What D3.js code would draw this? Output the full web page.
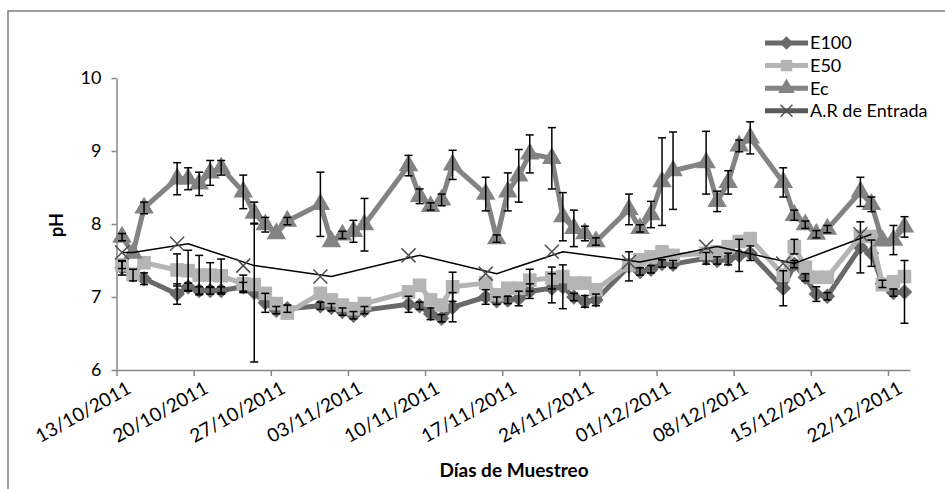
<!DOCTYPE html>
<html>
<head>
<meta charset="utf-8">
<script src="https://cdnjs.cloudflare.com/ajax/libs/d3/7.8.5/d3.min.js"></script>
<style>
  body { margin: 0; background: #fff; }
  svg { display: block; font-family: Lato, "Open Sans", sans-serif; }
</style>
</head>
<body>
<svg id="chart" width="945" height="489"></svg>
<script>
// sampling dates (dd/mm/yyyy)
const dates = [
  "13/10/2011","14/10/2011","15/10/2011","18/10/2011","19/10/2011","20/10/2011","21/10/2011","22/10/2011",
  "24/10/2011","25/10/2011","26/10/2011","27/10/2011","28/10/2011",
  "31/10/2011","01/11/2011","02/11/2011","03/11/2011","04/11/2011",
  "08/11/2011","09/11/2011","10/11/2011","11/11/2011","12/11/2011",
  "15/11/2011","16/11/2011","17/11/2011","18/11/2011","19/11/2011",
  "21/11/2011","22/11/2011","23/11/2011","24/11/2011","25/11/2011",
  "28/11/2011","29/11/2011","30/11/2011","01/12/2011","02/12/2011",
  "05/12/2011","06/12/2011","07/12/2011","08/12/2011","09/12/2011",
  "12/12/2011","13/12/2011","14/12/2011","15/12/2011","16/12/2011",
  "19/12/2011","20/12/2011","21/12/2011","22/12/2011","23/12/2011"
];

const e100 = [7.40,7.30,7.25,7.04,7.14,7.09,7.09,7.09, 7.14,7.06,6.92,6.82,6.84, 6.88,6.86,6.80,6.75,6.82,
  6.90,6.88,6.77,6.71,6.86, 7.00,6.95,6.96,6.98,7.08, 7.12,7.14,7.00,6.94,6.96, 7.42,7.35,7.38,7.46,7.45,
  7.53,7.50,7.52,7.57,7.60, 7.12,7.45,7.27,7.04,7.01, 7.68,7.60,7.18,7.06,7.07];
const e100Err = [0.10,0.08,0.08,0.14,0.05,0.05,0.05,0.05, 0.06,0.95,0.13,0.05,0.05, 0.05,0.05,0.05,0.05,0.05,
  0.11,0.05,0.08,0.05,0.20, 0.10,0.05,0.05,0.10,0.10, 0.20,0.30,0.05,0.08,0.08, 0.20,0.05,0.05,0.05,0.05,
  0.08,0.05,0.08,0.22,0.10, 0.24,0.05,0.05,0.10,0.05, 0.35,0.18,0.05,0.05,0.43];

const e50 = [7.44,7.31,7.47,7.37,7.36,7.30,7.30,7.29, 7.18,7.17,7.05,6.91,6.78, 7.05,6.96,6.89,6.84,6.91,
  7.07,7.16,6.96,6.89,7.14, 7.19,7.03,7.12,7.12,7.23, 7.26,7.28,7.19,7.19,7.10, 7.44,7.51,7.55,7.62,7.57,
  7.60,7.62,7.69,7.76,7.80, 7.30,7.69,7.41,7.27,7.27, 7.83,7.83,7.17,7.21,7.28];
const e50Err = [0.05,0,0,0.22,0.28,0.27,0.17,0.23, 0.12,0,0,0,0, 0,0,0,0,0,
  0,0,0,0,0.20, 0,0,0,0,0.15, 0.15,0,0,0,0, 0,0,0,0,0,
  0,0,0,0,0, 0,0.10,0,0,0, 0,0,0,0,0];

const ec = [7.82,7.60,8.22,8.62,8.62,8.55,8.70,8.77, 8.44,8.15,7.99,7.87,8.04, 8.27,7.76,7.85,7.90,7.99,
  8.80,8.38,8.24,8.33,8.81, 8.41,7.80,8.44,8.66,8.96, 8.90,8.10,7.94,7.87,7.76, 8.20,7.94,8.13,8.58,8.73,
  8.84,8.31,8.57,9.07,9.18, 8.57,8.12,7.99,7.86,7.93, 8.44,8.27,7.77,7.78,7.96];
const ecErr = [0.05,0,0.08,0.22,0.15,0.16,0.17,0.10, 0.23,0.15,0.10,0,0.05, 0.44,0,0.05,0.15,0.36,
  0.14,0.10,0.05,0.08,0.20, 0.23,0.05,0.26,0.36,0.26, 0.42,0.33,0.25,0.10,0.05, 0.21,0.05,0.18,0.60,0.53,
  0.43,0.14,0.16,0.08,0.22, 0.20,0.07,0.05,0.05,0.05, 0.20,0.10,0,0.20,0.14];

// inlet wastewater, weekly
const arDates = ["13/10/2011","18/10/2011","24/10/2011","31/10/2011","08/11/2011","15/11/2011",
  "21/11/2011","28/11/2011","05/12/2011","12/12/2011","19/12/2011"];
const arValues = [7.61,7.73,7.43,7.28,7.57,7.32,7.62,7.48,7.69,7.46,7.86];

const yTicks = [6, 7, 8, 9, 10];

const parse = d3.utcParse("%d/%m/%Y");
const fmt = d3.utcFormat("%d/%m/%Y");
const DAY = 864e5;

const svg = d3.select("#chart");
const font = 'Lato, "Open Sans", sans-serif';

// excel-like diamond (square turned 45deg)
const diamond = {
  draw(ctx, size) {
    const r = Math.sqrt(size / 2);
    ctx.moveTo(0, -r); ctx.lineTo(r, 0); ctx.lineTo(0, r); ctx.lineTo(-r, 0); ctx.closePath();
  }
};

// outer frame
svg.append("rect")
  .attr("x", 8).attr("y", 11).attr("width", 960).attr("height", 500)
  .attr("fill", "none").attr("stroke", "#7f7f7f").attr("stroke-width", 1.5);

const x = d3.scaleUtc()
  .domain([parse("13/10/2011"), parse("24/12/2011")])
  .range([116.5, 910]);
const y = d3.scaleLinear().domain([6, 10]).range([370, 78]);
const px = d => x(new Date(parse(d).getTime() + DAY / 2));

// axes
const xAxis = svg.append("g")
  .attr("transform", "translate(0,370)")
  .call(d3.axisBottom(x)
    .tickValues(d3.utcDay.range(parse("13/10/2011"), parse("24/12/2011"), 7))
    .tickFormat(fmt).tickSizeInner(6).tickSizeOuter(0));
xAxis.select(".domain").attr("stroke", "#868686").attr("stroke-width", 1.5);
xAxis.selectAll(".tick line").attr("stroke", "#868686").attr("stroke-width", 1.5);
xAxis.selectAll(".tick text")
  .attr("font-family", font).attr("font-size", 19).attr("fill", "#000")
  .attr("text-anchor", "end")
  .attr("transform", "translate(7,7) rotate(-29)")
  .attr("dy", "0.6em").attr("y", 6);

const yAxis = svg.append("g")
  .attr("transform", "translate(116.5,0)")
  .call(d3.axisLeft(y).tickValues(yTicks).tickFormat(d3.format("d"))
    .tickSizeInner(5).tickSizeOuter(0).tickPadding(10));
yAxis.select(".domain").attr("stroke", "#868686").attr("stroke-width", 1.5);
yAxis.selectAll(".tick line").attr("stroke", "#868686").attr("stroke-width", 1.5);
yAxis.selectAll(".tick text").attr("font-family", font).attr("font-size", 18).attr("fill", "#000");

svg.append("text")
  .attr("transform", "translate(63,225) rotate(-90)")
  .attr("text-anchor", "middle")
  .attr("font-family", font).attr("font-size", 18).attr("font-weight", "bold")
  .text("pH");
svg.append("text")
  .attr("x", 514).attr("y", 477)
  .attr("text-anchor", "middle")
  .attr("font-family", font).attr("font-size", 19).attr("font-weight", "bold")
  .text("Días de Muestreo");

// series
const series = [
  { name: "E100", values: e100, err: e100Err, color: "#696969", symbol: diamond, size: 120 },
  { name: "E50", values: e50, err: e50Err, color: "#b4b4b4", symbol: d3.symbolSquare, size: 185 },
  { name: "Ec", values: ec, err: ecErr, color: "#838383", symbol: d3.symbolTriangle, size: 165 }
];

const line = d3.line().x(d => d.x).y(d => d.y);

series.forEach(s => {
  const pts = dates.map((d, i) => ({ x: px(d), y: y(s.values[i]), v: s.values[i], e: s.err[i] }));
  const g = svg.append("g").attr("class", "series");
  g.append("path")
    .attr("d", line(pts))
    .attr("fill", "none").attr("stroke", s.color).attr("stroke-width", 5)
    .attr("stroke-linejoin", "round");
  g.selectAll(".mark")
    .data(pts).enter().append("path")
    .attr("class", "mark")
    .attr("transform", d => `translate(${d.x},${d.y})`)
    .attr("d", d3.symbol().type(s.symbol).size(s.size))
    .attr("fill", s.color);
  s.pts = pts;
});

// error bars on top
series.forEach(s => {
  const eb = svg.append("g").attr("stroke", "#000").attr("stroke-width", 1.5);
  s.pts.filter(d => d.e > 0).forEach(d => {
    const y1 = y(d.v + d.e), y2 = y(d.v - d.e);
    eb.append("line").attr("x1", d.x).attr("x2", d.x).attr("y1", y1).attr("y2", y2);
    eb.append("line").attr("x1", d.x - 4).attr("x2", d.x + 4).attr("y1", y1).attr("y2", y1);
    eb.append("line").attr("x1", d.x - 4).attr("x2", d.x + 4).attr("y1", y2).attr("y2", y2);
  });
});

// A.R de Entrada: markers plus thin black line
const arPts = arDates.map((d, i) => ({ date: parse(d), v: arValues[i] }));
const arLine = [{ date: arPts[0].date, v: arPts[0].v }]
  .concat(arPts.map(p => ({ date: new Date(p.date.getTime() + DAY), v: p.v })));
svg.append("path")
  .attr("d", d3.line().x(d => x(new Date(d.date.getTime() + DAY / 2))).y(d => y(d.v))(arLine))
  .attr("fill", "none").attr("stroke", "#000").attr("stroke-width", 1.5);
svg.append("g").selectAll("path")
  .data(arPts).enter().append("path")
  .attr("transform", d => `translate(${x(new Date(d.date.getTime() + DAY / 2))},${y(d.v)})`)
  .attr("d", "M-7,-7L7,7M-7,7L7,-7")
  .attr("stroke", "#505050").attr("stroke-width", 1.5);

// legend
const legendItems = [
  { name: "E100", color: "#696969", symbol: diamond, size: 90 },
  { name: "E50", color: "#b4b4b4", symbol: d3.symbolSquare, size: 130 },
  { name: "Ec", color: "#838383", symbol: d3.symbolTriangle, size: 120 },
  { name: "A.R de Entrada", color: "#595959", symbol: null }
];
const lg = svg.append("g").attr("transform", "translate(765,43)");
legendItems.forEach((it, i) => {
  const row = lg.append("g").attr("transform", `translate(0,${i * 22.6})`);
  row.append("line").attr("x1", 0).attr("x2", 43).attr("y1", 0).attr("y2", 0)
    .attr("stroke", it.color).attr("stroke-width", 5);
  if (it.symbol) {
    row.append("path").attr("transform", "translate(21.5,0)")
      .attr("d", d3.symbol().type(it.symbol).size(it.size)).attr("fill", it.color);
  } else {
    row.append("path").attr("transform", "translate(21.5,0)")
      .attr("d", "M-6,-6L6,6M-6,6L6,-6").attr("stroke", "#505050").attr("stroke-width", 1.5);
  }
  row.append("text").attr("x", 45).attr("dy", "0.36em")
    .attr("font-family", font).attr("font-size", 18).text(it.name);
});
</script>
</body>
</html>
